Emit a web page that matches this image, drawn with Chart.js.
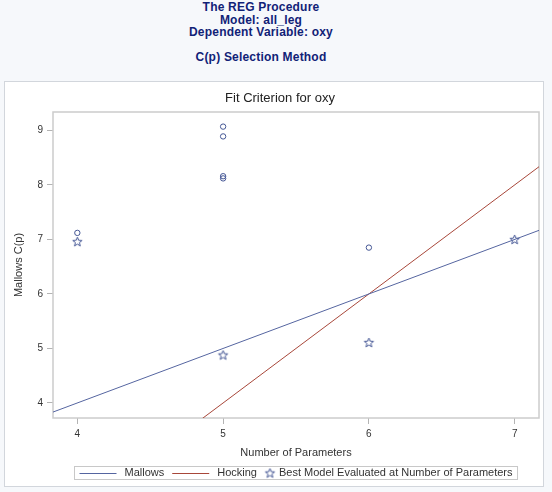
<!DOCTYPE html>
<html><head><meta charset="utf-8">
<script src="https://cdn.jsdelivr.net/npm/chart.js@4"></script>
<style>
html,body{margin:0;padding:0;width:552px;height:492px;overflow:hidden;background:#f6f8fb;font-family:"Liberation Sans",Arial,sans-serif}
#titles{position:absolute;left:0;top:1px;width:522px;text-align:center;color:#112277;font-weight:bold;font-size:12px;line-height:12.5px;letter-spacing:0.2px}
#panel{position:absolute;left:4px;top:81px;width:538px;height:404px;background:#fff;border:1px solid #d2d6dc}
#wrap{position:absolute;left:0;top:0;width:552px;height:492px}
</style></head><body>
<div id="titles"><div>The REG Procedure</div><div>Model: all_leg</div><div>Dependent Variable: oxy</div><div>&nbsp;</div><div>C(p) Selection Method</div></div>
<div id="panel"></div>
<div id="wrap"><canvas id="c" width="552" height="492"></canvas></div>
<script>
// ---- data ----
const xTicks = [4, 5, 6, 7];
const yTicks = [4, 5, 6, 7, 8, 9];
const modelX = [4, 5, 5, 5, 5, 6];
const modelCp = [7.12, 9.07, 8.89, 8.16, 8.12, 6.85];
const bestX = [4, 5, 6, 7];
const bestCp = [6.96, 4.88, 5.11, 7.00];
const mallowsX = [3, 8];
const mallowsY = [3, 8];
const hockingX = [4, 8];
const hockingY = [2, 10];
const seriesNames = ['Mallows', 'Hocking', 'Best Model Evaluated at Number of Parameters'];

const FONT = '"Liberation Sans", Arial, sans-serif';
const BLUE = '#445694', LBLUE = '#5565a0', RED = '#a8473a';

function makeStar(color) {
  const s = 13, c = document.createElement('canvas');
  c.width = s; c.height = s;
  const g = c.getContext('2d');
  g.strokeStyle = color; g.lineWidth = 1;
  const cx = s / 2, cy = s / 2 + 0.4, R = 4.9, r = 2.1;
  g.beginPath();
  for (let i = 0; i < 10; i++) {
    const a = -Math.PI / 2 + i * Math.PI / 5, rad = i % 2 ? r : R;
    g.lineTo(cx + rad * Math.cos(a), cy + rad * Math.sin(a));
  }
  g.closePath(); g.stroke();
  return c;
}
const starImg = makeStar(BLUE);

const pts = (xs, ys) => xs.map((x, i) => ({x, y: ys[i]}));

const framePlugin = {
  id: 'frame',
  beforeDatasetsDraw(chart) {
    const {ctx, chartArea: a} = chart;
    ctx.save();
    ctx.strokeStyle = '#cccccc'; ctx.lineWidth = 1.5;
    ctx.strokeRect(a.left, a.top, a.right - a.left, a.bottom - a.top);
    ctx.restore();
  }
};

const titlePlugin = {
  id: 'ptitle',
  afterDraw(chart) {
    const ctx = chart.ctx;
    ctx.save();
    ctx.fillStyle = '#222';
    ctx.font = '13px ' + FONT;
    ctx.textAlign = 'center'; ctx.textBaseline = 'middle';
    ctx.fillText('Fit Criterion for oxy', 280, 98);
    ctx.restore();
  }
};

const legendPlugin = {
  id: 'blegend',
  afterDraw(chart) {
    const ctx = chart.ctx;
    ctx.save();
    ctx.font = '11px ' + FONT;
    const lineW = 37, gap = 8, starW = 10, starGap = 4, pad = 5;
    const w0 = ctx.measureText(seriesNames[0]).width;
    const w1 = ctx.measureText(seriesNames[1]).width;
    const w2 = ctx.measureText(seriesNames[2]).width;
    const total = pad + lineW + gap + w0 + gap + lineW + gap + w1 + gap + starW + starGap + w2 + pad;
    const a = chart.chartArea;
    const cx = (a.left + a.right) / 2;
    const left = Math.round(cx - total / 2) + 0.5, top = 466.5, h = 13, cy = 473;
    ctx.fillStyle = '#fff';
    ctx.fillRect(left, top, total, h);
    ctx.strokeStyle = '#c8c8c8'; ctx.lineWidth = 1;
    ctx.strokeRect(left, top, total, h);
    let x = left + pad;
    ctx.textBaseline = 'middle'; ctx.textAlign = 'left'; ctx.fillStyle = '#333';
    const line = (col) => { ctx.strokeStyle = col; ctx.lineWidth = 1; ctx.beginPath(); ctx.moveTo(x, cy + 0.5); ctx.lineTo(x + lineW, cy + 0.5); ctx.stroke(); x += lineW + gap; };
    line(LBLUE);
    ctx.fillText(seriesNames[0], x, cy); x += w0 + gap;
    line(RED);
    ctx.fillText(seriesNames[1], x, cy); x += w1 + gap;
    ctx.drawImage(starImg, x + starW / 2 - starImg.width / 2, cy - starImg.height / 2);
    x += starW + starGap;
    ctx.fillText(seriesNames[2], x, cy);
    ctx.restore();
  }
};

new Chart(document.getElementById('c'), {
  type: 'scatter',
  data: {
    datasets: [
      {label: seriesNames[0], type: 'line', data: pts(mallowsX, mallowsY), borderColor: LBLUE, borderWidth: 1, pointRadius: 0, fill: false, tension: 0},
      {label: seriesNames[1], type: 'line', data: pts(hockingX, hockingY), borderColor: RED, borderWidth: 1, pointRadius: 0, fill: false, tension: 0},
      {label: 'Models', data: pts(modelX, modelCp), pointStyle: 'circle', pointRadius: 2.7, borderColor: BLUE, backgroundColor: 'rgba(0,0,0,0)', borderWidth: 1},
      {label: seriesNames[2], data: pts(bestX, bestCp), pointStyle: starImg, pointRadius: 5, borderColor: BLUE}
    ]
  },
  options: {
    responsive: false,
    animation: false,
    devicePixelRatio: 1,
    layout: {padding: {left: 0, right: 13, top: 112, bottom: 26}},
    plugins: {legend: {display: false}, title: {display: false}, tooltip: {enabled: false}},
    scales: {
      x: {
        type: 'linear', min: 3.833, max: 7.167,
        afterBuildTicks: s => { s.ticks = xTicks.map(v => ({value: v})); },
        afterFit: s => { s.height = 48; },
        grid: {display: true, drawOnChartArea: false, drawTicks: true, tickLength: 6, color: '#b4b4b4'},
        border: {display: false},
        ticks: {font: {family: FONT, size: 10}, color: '#333', padding: 4, maxRotation: 0},
        title: {display: true, text: 'Number of Parameters', font: {family: FONT, size: 11}, color: '#333', padding: {top: 0, bottom: 6.7}}
      },
      y: {
        type: 'linear', min: 3.724, max: 9.338,
        afterBuildTicks: s => { s.ticks = yTicks.map(v => ({value: v})); },
        afterFit: s => { s.width = 53; },
        grid: {display: true, drawOnChartArea: false, drawTicks: true, tickLength: 6, color: '#b4b4b4'},
        border: {display: false},
        ticks: {font: {family: FONT, size: 10}, color: '#333', padding: 4},
        title: {display: true, text: 'Mallows C(p)', font: {family: FONT, size: 11}, color: '#333', padding: {top: 12.4, bottom: 0}}
      }
    }
  },
  plugins: [framePlugin, titlePlugin, legendPlugin]
});
</script>
</body></html>
